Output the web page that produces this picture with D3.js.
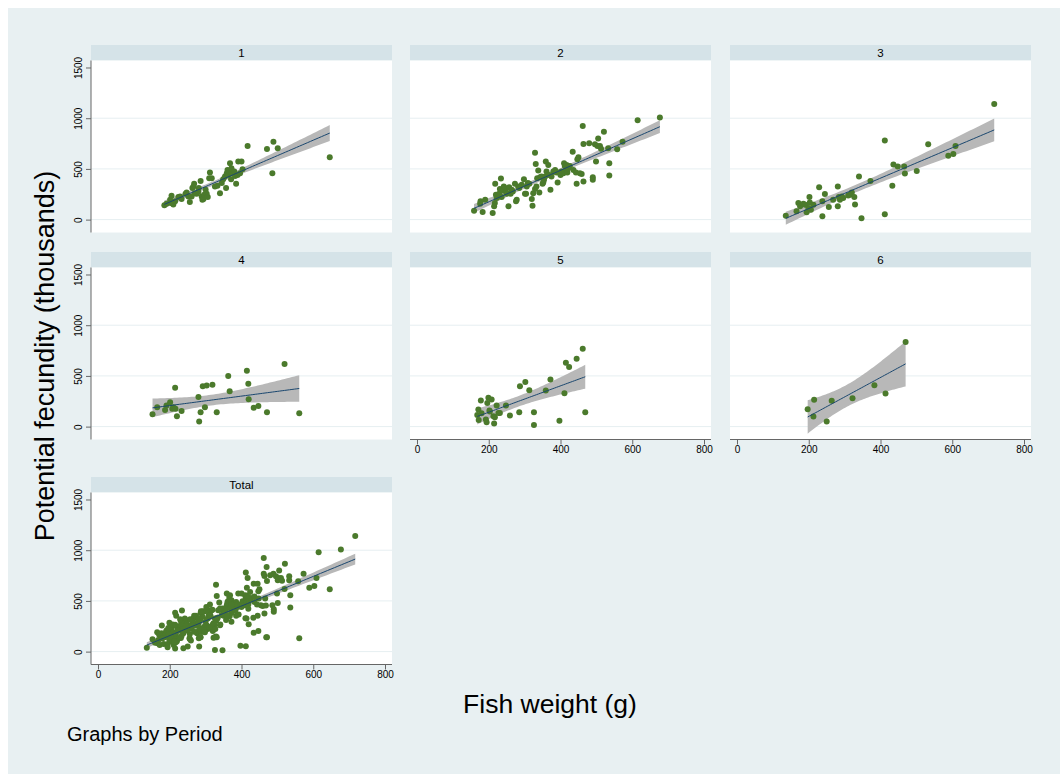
<!DOCTYPE html>
<html>
<head>
<meta charset="utf-8">
<script src="https://cdn.jsdelivr.net/npm/d3@7"></script>
<style>
  body { margin: 0; background: #fff; }
  text { font-family: 'Liberation Sans', Arial, Helvetica, sans-serif; fill: #000; }
</style>
</head>
<body>
<div id="chart"></div>
<script>
// fish weight (g) and potential fecundity (thousands), by period
var weight1 = [185,191,201,205,203,210,215,224,229,233,244,247,252,256,261,263,266,268,270,275,
  280,281,286,289,291,294,296,300,303,306,312,310,317,326,333,340,345,349,354,357,
  359,361,363,365,368,371,372,377,380,382,385,389,391,396,400,403,417,471,489,501,486,646];
var fecund1 = [141,157,196,235,163,150,180,222,229,203,255,268,229,173,229,311,327,353,261,255,
  275,311,382,229,196,203,245,294,255,222,464,409,409,327,333,261,360,399,425,311,
  458,490,441,474,556,399,507,458,474,431,353,441,572,458,572,497,726,696,768,703,458,614];

var weight2 = [159,176,177,190,183,211,217,215,222,220,227,229,231,234,218,236,239,242,245,248,
  250,255,257,261,264,267,273,276,278,282,285,292,298,301,304,306,309,313,320,322,
  324,329,331,329,333,335,338,341,343,347,350,352,354,357,359,361,366,369,372,375,
  380,385,389,392,397,400,403,408,410,412,415,417,419,422,426,434,436,443,445,447,
  450,454,459,462,464,464,480,490,490,496,499,503,505,510,513,521,533,536,536,558,
  573,615,677];
var fecund2 = [88,157,180,196,75,65,163,131,212,245,229,255,301,405,353,222,288,327,311,278,
  255,131,320,255,294,278,353,180,196,327,311,343,399,255,255,327,360,353,203,137,
  261,301,549,660,327,409,484,268,418,425,353,366,392,425,572,474,539,441,294,425,
  474,490,464,366,464,441,474,458,556,529,490,539,464,507,529,670,490,464,353,595,
  614,458,451,922,745,376,752,418,392,742,572,726,801,726,699,866,703,556,435,693,
  768,980,1007];

var weight3 = [136,166,171,176,185,190,194,199,202,203,206,213,229,238,238,245,256,268,281,281,
  284,287,292,296,310,315,320,327,329,340,347,372,412,412,433,436,448,466,468,501,
  533,589,603,609,717];
var fecund3 = [39,82,163,131,157,147,72,114,222,170,98,147,320,180,33,252,124,196,327,131,
  222,196,229,212,239,245,268,222,150,425,13,382,781,52,333,543,523,523,454,480,
  742,631,647,726,1141];

var weight4 = [152,165,187,191,201,207,210,215,216,220,233,280,282,286,292,298,303,319,331,363,
  367,415,419,420,434,447,471,520,561];
var fecund4 = [122,191,165,208,241,175,191,383,175,102,155,293,50,142,399,191,406,412,142,498,
  350,551,422,270,185,204,142,617,132];

var weight5 = [168,171,172,178,180,192,194,196,199,202,203,208,213,215,217,222,227,231,248,259,
  285,287,302,313,326,326,359,372,397,411,415,424,445,462,469];
var fecund5 = [115,168,66,257,132,69,43,234,284,158,148,267,102,30,92,208,135,135,208,109,
  142,399,439,359,142,17,356,465,59,330,630,587,669,768,142];

var weight6 = [197,213,215,250,264,322,383,414,470];
var fecund6 = [171,99,264,50,254,280,409,326,834];

var periodLabels = ['1', '2', '3', '4', '5', '6', 'Total'];
var xTicks = [0, 200, 400, 600, 800];
var yTicks = [0, 500, 1000, 1500];

var weights = [weight1, weight2, weight3, weight4, weight5, weight6];
var fecunds = [fecund1, fecund2, fecund3, fecund4, fecund5, fecund6];
weights.push([].concat.apply([], weights));
fecunds.push([].concat.apply([], fecunds));

var W = 1060, H = 774;
var colX = [91, 410, 730], plotW = 301;
var rowTop = [45, 252, 477], headH = 15.5, plotH = 172;

var svg = d3.select('#chart').append('svg')
  .attr('width', W)
  .attr('height', H);

svg.append('rect')
  .attr('x', 8).attr('y', 8)
  .attr('width', W - 8).attr('height', H - 8)
  .attr('fill', '#e8f0f2');

// t quantile (0.975) via Cornish-Fisher expansion
function t975(df) {
  var z = 1.959964;
  var g1 = (Math.pow(z, 3) + z) / 4;
  var g2 = (5 * Math.pow(z, 5) + 16 * Math.pow(z, 3) + 3 * z) / 96;
  var g3 = (3 * Math.pow(z, 7) + 19 * Math.pow(z, 5) + 17 * Math.pow(z, 3) - 15 * z) / 384;
  var g4 = (79 * Math.pow(z, 9) + 776 * Math.pow(z, 7) + 1482 * Math.pow(z, 5) - 1920 * Math.pow(z, 3) - 945 * z) / 92160;
  return z + g1 / df + g2 / (df * df) + g3 / Math.pow(df, 3) + g4 / Math.pow(df, 4);
}

// linear fit with 95% CI of the mean prediction
function fitci(xs, ys) {
  var n = xs.length;
  var mx = d3.mean(xs), my = d3.mean(ys);
  var sxx = 0, sxy = 0;
  for (var i = 0; i < n; i++) {
    sxx += (xs[i] - mx) * (xs[i] - mx);
    sxy += (xs[i] - mx) * (ys[i] - my);
  }
  var b = sxy / sxx, a = my - b * mx;
  var ssr = 0;
  for (var i = 0; i < n; i++) {
    var r = ys[i] - (a + b * xs[i]);
    ssr += r * r;
  }
  var s = Math.sqrt(ssr / (n - 2));
  var t = t975(n - 2);
  var lo = d3.min(xs), hi = d3.max(xs);
  return d3.range(0, 61).map(function (k) {
    var x = lo + (hi - lo) * k / 60;
    var yh = a + b * x;
    var se = s * Math.sqrt(1 / n + (x - mx) * (x - mx) / sxx);
    return { x: x, y: yh, lo: yh - t * se, hi: yh + t * se };
  });
}

periodLabels.forEach(function (label, p) {
  var col = p % 3, row = Math.floor(p / 3);
  var left = colX[col];
  var top = rowTop[row] + headH;
  var showY = col === 0;
  var showX = p >= 4;

  var x = d3.scaleLinear().domain([-19.5, 819.5]).range([left, left + plotW]);
  var y = d3.scaleLinear().domain([-127, 1569]).range([top + plotH, top]);

  var g = svg.append('g').attr('class', 'panel');

  // strip
  g.append('rect')
    .attr('x', left).attr('y', rowTop[row])
    .attr('width', plotW).attr('height', headH)
    .attr('fill', '#d5e3e8');
  g.append('text')
    .attr('x', left + plotW / 2)
    .attr('y', rowTop[row] + 11.8)
    .attr('text-anchor', 'middle')
    .style('font-size', '11.5px')
    .text(label);

  g.append('rect')
    .attr('x', left).attr('y', top)
    .attr('width', plotW).attr('height', plotH)
    .attr('fill', '#fff');

  g.selectAll('.grid')
    .data(yTicks.slice(0, 3))
    .enter().append('line')
    .attr('x1', left).attr('x2', left + plotW)
    .attr('y1', function (d) { return y(d); })
    .attr('y2', function (d) { return y(d); })
    .attr('stroke', '#e6eff1')
    .attr('stroke-width', 1);

  var fit = fitci(weights[p], fecunds[p]);

  g.append('path')
    .datum(fit)
    .attr('d', d3.area()
      .x(function (d) { return x(d.x); })
      .y0(function (d) { return y(d.lo); })
      .y1(function (d) { return y(d.hi); }))
    .attr('fill', '#b8b8b8');

  g.selectAll('circle')
    .data(d3.range(weights[p].length))
    .enter().append('circle')
    .attr('cx', function (i) { return x(weights[p][i]); })
    .attr('cy', function (i) { return y(fecunds[p][i]); })
    .attr('r', 3)
    .attr('fill', '#4b7a2c');

  g.append('path')
    .datum(fit)
    .attr('d', d3.line()
      .x(function (d) { return x(d.x); })
      .y(function (d) { return y(d.y); }))
    .attr('fill', 'none')
    .attr('stroke', '#1a476f')
    .attr('stroke-width', 1);

  if (showY) {
    var ya = g.append('g')
      .attr('transform', 'translate(' + left + ',0)')
      .call(d3.axisLeft(y).tickValues(yTicks).tickSize(5).tickFormat(d3.format('d')));
    ya.select('.domain').attr('stroke', '#666').attr('d', 'M0,' + top + 'V' + (top + plotH));
    ya.selectAll('.tick line').attr('stroke', '#666');
    ya.selectAll('.tick text')
      .attr('x', 0).attr('dy', 0)
      .attr('transform', 'translate(-9,0) rotate(-90)')
      .attr('text-anchor', 'middle')
      .style('font-size', '10px')
      .style('font-family', "'Liberation Sans', Arial, sans-serif")
      .attr('fill', '#000');
  }

  if (showX) {
    var xa = g.append('g')
      .attr('transform', 'translate(0,' + (top + plotH) + ')')
      .call(d3.axisBottom(x).tickValues(xTicks).tickSize(5).tickFormat(d3.format('d')));
    xa.select('.domain').attr('stroke', '#666').attr('d', 'M' + left + ',0H' + (left + plotW));
    xa.selectAll('.tick line').attr('stroke', '#666');
    xa.selectAll('.tick text')
      .attr('y', 13).attr('dy', 0)
      .style('font-size', '10px')
      .style('font-family', "'Liberation Sans', Arial, sans-serif")
      .attr('fill', '#000');
  }
});

// axis titles and note
svg.append('text')
  .attr('transform', 'translate(54,356) rotate(-90)')
  .attr('text-anchor', 'middle')
  .style('font-size', '27px')
  .text('Potential fecundity (thousands)');

svg.append('text')
  .attr('x', 550).attr('y', 713)
  .attr('text-anchor', 'middle')
  .style('font-size', '26.5px')
  .text('Fish weight (g)');

svg.append('text')
  .attr('x', 67).attr('y', 741)
  .style('font-size', '20px')
  .text('Graphs by Period');
</script>
</body>
</html>
